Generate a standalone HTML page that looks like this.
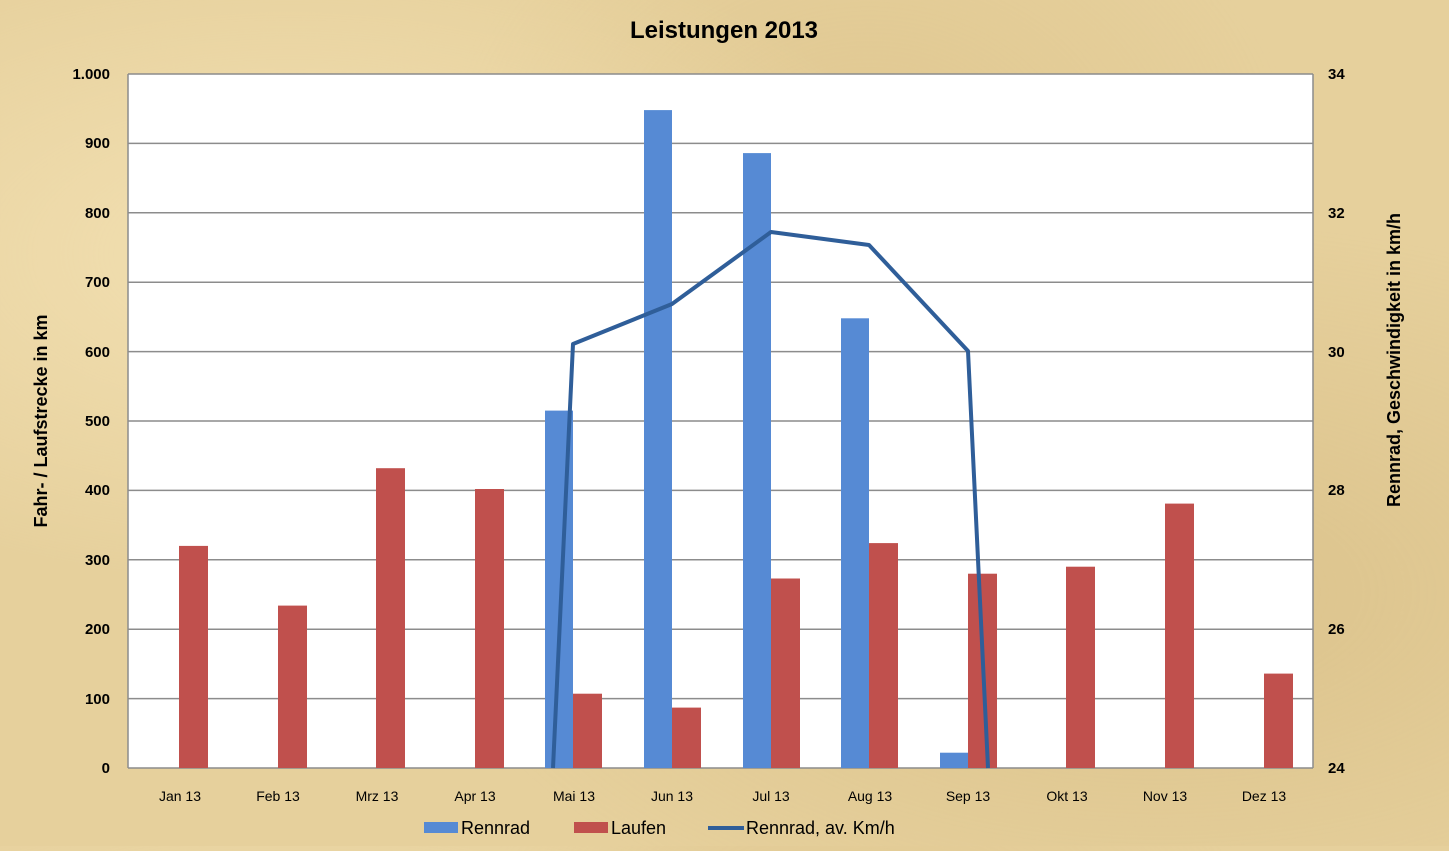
<!DOCTYPE html>
<html><head><meta charset="utf-8"><style>
html,body{margin:0;padding:0;}
body{width:1449px;height:846px;overflow:hidden;background:#e6d09c;
background-image:radial-gradient(ellipse at 20% 30%,rgba(255,240,200,.5),transparent 40%),radial-gradient(ellipse at 80% 70%,rgba(200,170,110,.35),transparent 45%),radial-gradient(ellipse at 60% 20%,rgba(210,180,120,.3),transparent 35%);
font-family:"Liberation Sans",sans-serif;}
</style></head><body>
<svg width="1449" height="846" xmlns="http://www.w3.org/2000/svg" font-family="Liberation Sans, sans-serif">
<text x="724" y="38" text-anchor="middle" font-size="24" font-weight="bold">Leistungen 2013</text>
<rect x="128" y="74" width="1185" height="694" fill="#fff"/>
<g stroke="#8c8c8c" stroke-width="1.5">
<line x1="128" y1="74" x2="1313" y2="74"/><line x1="128" y1="143.4" x2="1313" y2="143.4"/>
<line x1="128" y1="212.8" x2="1313" y2="212.8"/><line x1="128" y1="282.2" x2="1313" y2="282.2"/>
<line x1="128" y1="351.6" x2="1313" y2="351.6"/><line x1="128" y1="421" x2="1313" y2="421"/>
<line x1="128" y1="490.4" x2="1313" y2="490.4"/><line x1="128" y1="559.8" x2="1313" y2="559.8"/>
<line x1="128" y1="629.2" x2="1313" y2="629.2"/><line x1="128" y1="698.6" x2="1313" y2="698.6"/>
<line x1="128" y1="768" x2="1313" y2="768"/>
<line x1="128" y1="74" x2="128" y2="768"/><line x1="1313" y1="74" x2="1313" y2="768"/>
</g>
<g fill="#568ad4">
<rect x="545" y="410.6" width="28" height="357.4"/>
<rect x="644" y="110.1" width="28" height="657.9"/>
<rect x="743" y="153.1" width="28" height="614.9"/>
<rect x="841" y="318.3" width="28" height="449.7"/>
<rect x="940" y="752.7" width="28" height="15.3"/>
</g>
<g fill="#c0504d">
<rect x="179" y="545.9" width="29" height="222.1"/>
<rect x="278" y="605.6" width="29" height="162.4"/>
<rect x="376" y="468.2" width="29" height="299.8"/>
<rect x="475" y="489" width="29" height="279"/>
<rect x="573" y="693.7" width="29" height="74.3"/>
<rect x="672" y="707.6" width="29" height="60.4"/>
<rect x="771" y="578.5" width="29" height="189.5"/>
<rect x="869" y="543.1" width="29" height="224.9"/>
<rect x="968" y="573.7" width="29" height="194.3"/>
<rect x="1066" y="566.7" width="29" height="201.3"/>
<rect x="1165" y="503.6" width="29" height="264.4"/>
<rect x="1264" y="673.6" width="29" height="94.4"/>
</g>
<polyline points="553,768 573,344 672,304 771,232 869,245 968,351 988,768" fill="none" stroke="#2f5e99" stroke-width="4" stroke-linejoin="round"/>
<g font-size="15" font-weight="bold" text-anchor="end">
<text x="110" y="79">1.000</text><text x="110" y="148">900</text><text x="110" y="218">800</text>
<text x="110" y="287">700</text><text x="110" y="357">600</text><text x="110" y="426">500</text>
<text x="110" y="495">400</text><text x="110" y="565">300</text><text x="110" y="634">200</text>
<text x="110" y="704">100</text><text x="110" y="773">0</text>
</g>
<g font-size="15" font-weight="bold">
<text x="1328" y="79">34</text><text x="1328" y="218">32</text><text x="1328" y="357">30</text>
<text x="1328" y="495">28</text><text x="1328" y="634">26</text><text x="1328" y="773">24</text>
</g>
<g font-size="14" text-anchor="middle">
<text x="180" y="801">Jan 13</text><text x="278" y="801">Feb 13</text><text x="377" y="801">Mrz 13</text>
<text x="475" y="801">Apr 13</text><text x="574" y="801">Mai 13</text><text x="672" y="801">Jun 13</text>
<text x="771" y="801">Jul 13</text><text x="870" y="801">Aug 13</text><text x="968" y="801">Sep 13</text>
<text x="1067" y="801">Okt 13</text><text x="1165" y="801">Nov 13</text><text x="1264" y="801">Dez 13</text>
</g>
<text transform="translate(47,421) rotate(-90)" text-anchor="middle" font-size="18" font-weight="bold">Fahr- / Laufstrecke in km</text>
<text transform="translate(1400,360) rotate(-90)" text-anchor="middle" font-size="18" font-weight="bold">Rennrad, Geschwindigkeit in km/h</text>
<rect x="424" y="822" width="34" height="11" fill="#568ad4"/>
<text x="461" y="834" font-size="18">Rennrad</text>
<rect x="574" y="822" width="34" height="11" fill="#c0504d"/>
<text x="611" y="834" font-size="18">Laufen</text>
<line x1="708" y1="828" x2="744" y2="828" stroke="#2f5e99" stroke-width="4"/>
<text x="746" y="834" font-size="18">Rennrad, av. Km/h</text>
</svg>
</body></html>
